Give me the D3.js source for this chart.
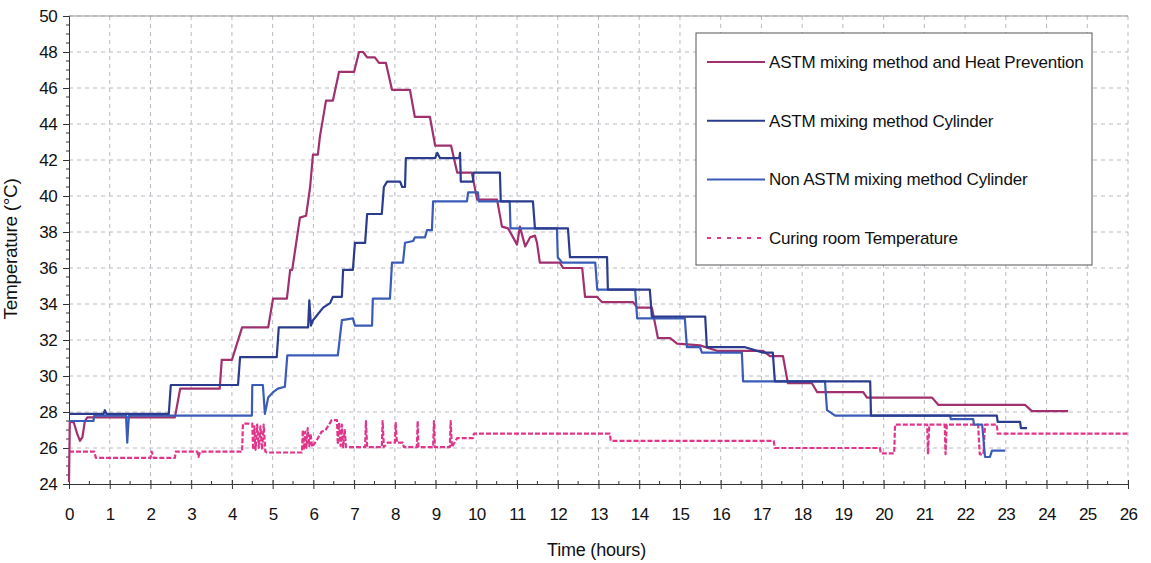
<!DOCTYPE html>
<html>
<head>
<meta charset="utf-8">
<script src="https://cdn.jsdelivr.net/npm/d3@7"></script>
<style>
  body { margin: 0; background: #fff; }
  text { font-family: "Liberation Sans", Arial, sans-serif; fill: #111; }
</style>
</head>
<body>
<div id="chart"></div>
<script>
// [hour, temperature] readings
const heatPrevention = [
  [0,24.1],[0.02,27.5],[0.12,27.4],[0.2,26.8],[0.27,26.4],[0.33,26.6],[0.39,27.5],[0.45,27.7],
  [2.6,27.7],[2.73,29.3],[3.7,29.3],[3.75,30.9],[4.0,30.9],[4.25,32.7],[4.89,32.7],[5.01,34.3],
  [5.35,34.3],[5.43,35.9],[5.48,35.9],[5.67,38.8],[5.82,38.9],[5.92,40.5],[5.99,42.3],[6.11,42.3],
  [6.16,43.3],[6.31,45.3],[6.48,45.3],[6.63,46.9],[7.0,46.9],[7.12,48.0],[7.22,48.0],[7.32,47.7],
  [7.51,47.7],[7.61,47.4],[7.78,47.4],[7.93,45.9],[8.37,45.9],[8.49,44.4],[8.86,44.4],[8.99,42.8],
  [9.38,42.8],[9.53,41.3],[9.89,41.3],[10.02,39.8],[10.51,39.8],[10.63,38.3],[10.78,38.2],[11.0,37.3],
  [11.07,38.3],[11.2,37.2],[11.32,37.7],[11.44,37.8],[11.49,37.4],[11.56,36.3],[12.05,36.3],[12.13,36.0],
  [12.6,36.0],[12.67,34.4],[12.96,34.4],[13.09,34.1],[13.85,34.1],[13.95,33.8],[14.31,33.8],[14.46,32.1],
  [14.76,32.1],[14.93,31.8],[15.49,31.7],[15.91,31.4],[17.04,31.4],[17.21,31.1],[17.53,31.1],[17.65,29.6],
  [18.24,29.6],[18.37,29.1],[19.5,29.1],[19.59,28.8],[21.19,28.8],[21.34,28.4],[23.47,28.4],[23.64,28.05],
  [24.53,28.05]
];

const astmCylinder = [
  [0,27.9],[0.85,27.9],[0.88,28.1],[0.92,27.9],[2.45,27.9],[2.5,29.5],[4.15,29.5],[4.2,31.05],
  [5.1,31.05],[5.15,32.7],[5.87,32.7],[5.9,34.2],[5.94,32.8],[5.99,33.1],[6.24,33.8],[6.41,34.05],
  [6.48,34.4],[6.7,34.4],[6.73,35.9],[6.97,35.9],[7.02,37.4],[7.27,37.4],[7.32,39.0],[7.68,39.0],
  [7.73,40.5],[7.81,40.8],[8.13,40.8],[8.18,40.5],[8.25,40.5],[8.27,42.1],[8.99,42.1],[9.04,42.4],
  [9.11,42.1],[9.58,42.1],[9.6,42.4],[9.62,40.8],[9.92,40.8],[9.93,41.3],[10.58,41.3],[10.6,39.7],
  [11.39,39.7],[11.44,38.2],[12.25,38.2],[12.3,36.6],[13.21,36.6],[13.23,34.8],[14.26,34.8],[14.31,33.3],
  [15.62,33.3],[15.66,31.6],[16.6,31.6],[17.04,31.3],[17.28,31.3],[17.33,29.7],[19.67,29.7],[19.69,27.8],
  [22.78,27.8],[22.8,27.45],[23.35,27.45],[23.37,27.1],[23.52,27.1]
];

const nonAstmCylinder = [
  [0,27.5],[0.6,27.5],[0.62,27.8],[1.4,27.8],[1.43,26.3],[1.47,27.8],[4.49,27.8],[4.5,29.5],
  [4.76,29.5],[4.81,27.9],[4.89,28.8],[5.01,29.1],[5.13,29.3],[5.3,29.4],[5.36,31.15],
  [6.6,31.15],[6.7,33.1],[6.97,33.2],[7.02,32.8],[7.44,32.8],[7.46,34.3],[7.88,34.3],[7.93,36.3],
  [8.2,36.3],[8.25,37.4],[8.45,37.5],[8.49,37.7],[8.74,37.7],[8.79,38.1],[8.91,38.1],[8.94,39.7],
  [9.77,39.7],[9.8,40.2],[10.04,40.2],[10.06,39.7],[10.82,39.7],[10.84,38.2],[11.98,38.2],[12.0,36.6],
  [12.11,36.3],[12.92,36.3],[12.97,34.8],[13.9,34.8],[13.95,33.2],[15.12,33.2],[15.17,31.6],[15.49,31.6],
  [15.54,31.3],[16.52,31.3],[16.55,29.7],[18.56,29.7],[18.61,28.1],[18.81,27.8],[21.63,27.8],[21.65,27.6],
  [22.2,27.6],[22.22,27.3],[22.42,27.3],[22.49,25.5],[22.61,25.5],[22.66,25.85],[22.98,25.85]
];

const curingRoom = [
  [0,25.8],[0.62,25.8],[0.66,25.45],[2.0,25.45],[2.03,25.8],[2.08,25.45],[2.6,25.45],[2.62,25.8],
  [3.15,25.8],[3.18,25.5],[3.22,25.8],[4.25,25.8],[4.27,27.35],[4.5,27.35],[4.52,25.9],[4.55,27.2],
  [4.58,25.9],[4.62,27.3],[4.66,26.0],[4.7,27.2],[4.74,25.9],[4.78,27.3],[4.82,25.8],[4.86,25.75],
  [5.72,25.75],[5.74,27.0],[5.77,25.9],[5.8,26.9],[5.83,26.0],[5.86,27.1],[5.9,26.1],[5.93,26.8],
  [5.97,26.05],[6.1,26.5],[6.2,26.9],[6.3,27.0],[6.41,27.4],[6.45,27.55],[6.58,27.55],[6.6,26.2],
  [6.63,27.4],[6.67,26.1],[6.7,27.3],[6.73,26.05],[6.77,27.0],[6.8,26.05],[7.27,26.05],[7.29,27.5],
  [7.32,26.05],[7.68,26.05],[7.7,27.5],[7.73,26.05],[7.83,26.3],[8.0,26.3],[8.02,27.4],[8.05,26.3],
  [8.2,26.3],[8.22,26.05],[8.54,26.05],[8.56,27.5],[8.58,26.05],[8.94,26.05],[8.96,27.5],[8.98,26.05],
  [9.35,26.05],[9.37,27.5],[9.4,26.05],[9.53,26.55],[9.92,26.55],[9.94,26.8],[13.28,26.8],[13.3,26.4],
  [17.3,26.4],[17.33,26.0],[19.91,26.0],[19.93,25.7],[20.26,25.7],[20.28,27.3],[21.07,27.3],[21.09,25.65],
  [21.12,27.3],[21.5,27.3],[21.52,25.65],[21.55,27.3],[22.32,27.3],[22.36,25.65],[22.45,25.65],[22.49,27.3],
  [22.78,27.3],[22.8,26.8],[26.0,26.8]
];

const seriesNames = [
  "ASTM mixing method and Heat Prevention",
  "ASTM mixing method Cylinder",
  "Non ASTM mixing method Cylinder",
  "Curing room Temperature"
];
const seriesColors = ["#a0306e", "#2b3c8e", "#3a5cb8", "#e0358a"];
const xTicks = d3.range(0, 27, 1);
const yTicks = d3.range(24, 51, 2);

const W = 1151, H = 563;
const margin = { top: 16, right: 23, bottom: 79, left: 69 };
const width = W - margin.left - margin.right;
const height = H - margin.top - margin.bottom;

const svg = d3.select("#chart").append("svg")
  .attr("width", W).attr("height", H)
  .append("g")
  .attr("transform", `translate(${margin.left},${margin.top})`);

const x = d3.scaleLinear().domain([0, 26]).range([0, width]);
const y = d3.scaleLinear().domain([24, 50]).range([height, 0]);

// grid
svg.append("g").selectAll("line").data(xTicks.slice(1)).join("line")
  .attr("x1", d => x(d)).attr("x2", d => x(d)).attr("y1", 0).attr("y2", height)
  .attr("stroke", "#b9b9c4").attr("stroke-dasharray", "4,4");
svg.append("g").selectAll("line").data(yTicks.slice(1)).join("line")
  .attr("x1", 0).attr("x2", width).attr("y1", d => y(d)).attr("y2", d => y(d))
  .attr("stroke", "#b9b9c4").attr("stroke-dasharray", "4,4");

// top frame
svg.append("line").attr("x1", 0).attr("x2", width).attr("y1", 0).attr("y2", 0)
  .attr("stroke", "#999");

// axes
const xAxis = svg.append("g").attr("transform", `translate(0,${height})`)
  .call(d3.axisBottom(x).tickValues(xTicks).tickSize(5).tickPadding(19).tickFormat(d3.format("d")));
xAxis.selectAll(".tick line").attr("y1", -4);
xAxis.append("g").selectAll("line").data(d3.range(0.5, 26, 1)).join("line")
  .attr("x1", d => x(d)).attr("x2", d => x(d)).attr("y1", -3).attr("y2", 0).attr("stroke", "#333");

const yAxis = svg.append("g")
  .call(d3.axisLeft(y).tickValues(yTicks).tickSize(6).tickPadding(6).tickFormat(d3.format("d")));
yAxis.append("g").selectAll("line").data(d3.range(24.5, 50, 0.5).filter(d => d % 2 !== 0)).join("line")
  .attr("x1", -3).attr("x2", 0).attr("y1", d => y(d)).attr("y2", d => y(d)).attr("stroke", "#333");

svg.selectAll(".domain").attr("stroke", "#333");
svg.selectAll(".tick line").attr("stroke", "#333");
svg.selectAll(".tick text").style("font-size", "17px").style("letter-spacing", "-0.6px")
  .style("font-family", "'Liberation Sans', Arial, sans-serif").attr("fill", "#111");

// axis titles
svg.append("text")
  .attr("x", width / 2 - 2).attr("y", height + 72)
  .attr("text-anchor", "middle").style("font-size", "18px").style("letter-spacing", "-0.2px")
  .text("Time (hours)");
svg.append("text")
  .attr("transform", `translate(${-52},${height / 2 - 1}) rotate(-90)`)
  .attr("text-anchor", "middle").style("font-size", "19px").style("letter-spacing", "-0.3px")
  .text("Temperature (\u00B0C)");

// series
const line = d3.line().x(d => x(d[0])).y(d => y(d[1]));
const allSeries = [heatPrevention, astmCylinder, nonAstmCylinder, curingRoom];
const drawOrder = [3, 0, 2, 1];
drawOrder.forEach(i => {
  svg.append("path")
    .datum(allSeries[i])
    .attr("fill", "none")
    .attr("stroke", seriesColors[i])
    .attr("stroke-width", 2.2)
    .attr("stroke-dasharray", i === 3 ? "5,2" : null)
    .attr("stroke-linejoin", "round")
    .attr("d", line);
});

// legend
const legend = svg.append("g").attr("transform", `translate(${696 - margin.left},${33 - margin.top})`);
legend.append("rect").attr("width", 396).attr("height", 232)
  .attr("fill", "#fff").attr("stroke", "#555").attr("stroke-width", 1);
seriesNames.forEach((name, i) => {
  const ly = 29 + i * 58.7;
  legend.append("line")
    .attr("x1", 11).attr("x2", 69).attr("y1", ly).attr("y2", ly)
    .attr("stroke", seriesColors[i]).attr("stroke-width", 2)
    .attr("stroke-dasharray", i === 3 ? "4,6" : null);
  legend.append("text")
    .attr("x", 73).attr("y", ly + 6)
    .style("font-size", "17px").style("letter-spacing", "-0.2px")
    .text(name);
});
</script>
</body>
</html>
